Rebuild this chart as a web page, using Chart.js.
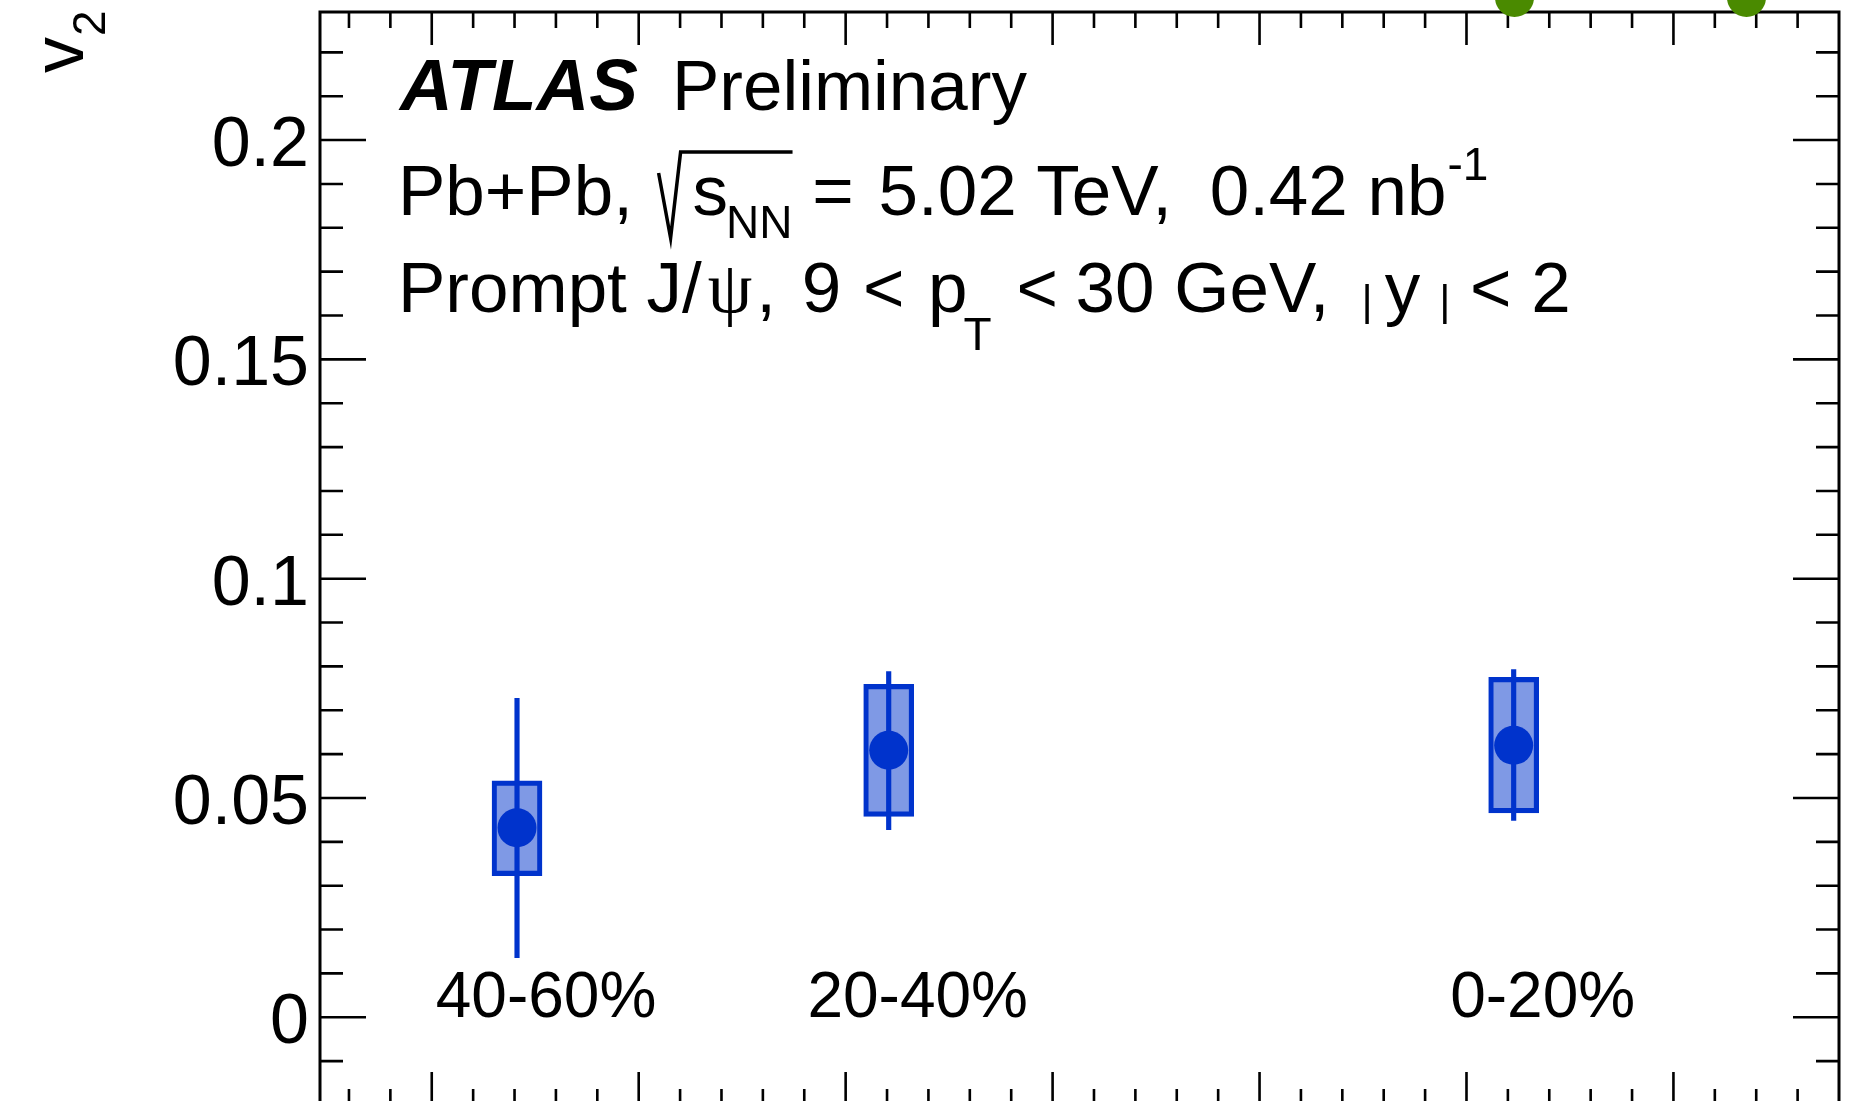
<!DOCTYPE html>
<html>
<head>
<meta charset="utf-8">
<script src="https://cdn.jsdelivr.net/npm/chart.js@4.4.0/dist/chart.umd.min.js"></script>
<style>
  html, body { margin: 0; padding: 0; background: #fff; overflow: hidden; }
  #wrap { width: 1870px; height: 1110px; }
</style>
</head>
<body>
<div id="wrap"><canvas id="chart" width="1870" height="1110"></canvas></div>
<script>
// centrality bins (prompt J/psi)
const centrality = ["40-60%", "20-40%", "0-20%"];
const binX = [0.412, 2.208, 5.228];
const v2 = [0.0432, 0.0609, 0.0620];
const statLow = [0.0136, 0.0428, 0.0449];
const statHigh = [0.0727, 0.0788, 0.0793];
const sysLow = [0.0323, 0.0458, 0.0466];
const sysHigh = [0.0539, 0.0759, 0.0775];

// other series, only its lower edge shows above the frame
const otherX = [5.232, 6.353];
const otherV2 = [0.2325, 0.2325];

const yTicks = [0, 0.05, 0.1, 0.15, 0.2];
const yTickLabels = ["0", "0.05", "0.1", "0.15", "0.2"];

const X_MIN = -0.54, X_MAX = 6.8;
const Y_MIN = -0.02, Y_MAX = 0.2292;

const BLUE = "#0033cc";
const GREEN = "#4a8a00";
const SANS = "'Liberation Sans', Arial, Helvetica, sans-serif";
const SERIF = "'Liberation Serif', 'DejaVu Serif', serif";

function drawRich(ctx, x, y, segs) {
  for (const s of segs) {
    x += s.gap || 0;
    ctx.font = s.font;
    ctx.fillText(s.t, x, y + (s.dy || 0));
    x += ctx.measureText(s.t).width;
  }
  return x;
}

const atlasFrame = {
  id: "atlasFrame",
  beforeDatasetsDraw(chart) {
    const { ctx, chartArea: a, scales: { x, y } } = chart;
    ctx.save();
    ctx.strokeStyle = "#000";
    ctx.lineWidth = 3;
    ctx.strokeRect(a.left, a.top, a.right - a.left, a.bottom - a.top);

    ctx.lineWidth = 2.6;
    ctx.beginPath();
    // y ticks every 0.01, long ones at 0.05
    for (let i = -2; i <= 22; i++) {
      const py = y.getPixelForValue(i / 100);
      const len = i % 5 === 0 ? 46 : 23;
      ctx.moveTo(a.left, py); ctx.lineTo(a.left + len, py);
      ctx.moveTo(a.right, py); ctx.lineTo(a.right - len, py);
    }
    // x ticks every 0.2, long ones at integers
    for (let k = -2; k <= 34; k++) {
      const v = k / 5;
      if (v <= X_MIN || v >= X_MAX) continue;
      const px = x.getPixelForValue(v);
      const len = k % 5 === 0 ? 33 : 16;
      ctx.moveTo(px, a.top); ctx.lineTo(px, a.top + len);
      ctx.moveTo(px, a.bottom); ctx.lineTo(px, a.bottom - len);
    }
    ctx.stroke();
    ctx.restore();
  },
  afterDraw(chart) {
    const { ctx, chartArea: a, scales: { x, y } } = chart;
    ctx.save();
    ctx.fillStyle = "#000";
    ctx.strokeStyle = "#000";
    ctx.textBaseline = "alphabetic";

    // y tick labels
    ctx.font = "70px " + SANS;
    ctx.textAlign = "right";
    yTicks.forEach((v, i) => {
      ctx.fillText(yTickLabels[i], a.left - 11, y.getPixelForValue(v) + 26);
    });

    // y title, rotated
    ctx.textAlign = "left";
    ctx.save();
    ctx.translate(83, 73);
    ctx.rotate(-Math.PI / 2);
    ctx.font = "72px " + SANS;
    ctx.fillText("v", 0, 0);
    const vw = ctx.measureText("v").width;
    ctx.font = "46px " + SANS;
    ctx.fillText("2", vw + 1, 22);
    ctx.restore();

    // centrality labels under the points
    ctx.font = "64px " + SANS;
    ctx.textAlign = "center";
    centrality.forEach((c, i) => {
      ctx.fillText(c, x.getPixelForValue(binX[i]) + 29, y.getPixelForValue(0));
    });

    // ATLAS label block
    ctx.textAlign = "left";
    const big = "71px " + SANS, small = "46px " + SANS;
    const x0 = 398;
    drawRich(ctx, x0 + 2, 109.5, [
      { t: "ATLAS", font: "italic bold 73px " + SANS },
      { t: "Preliminary", font: big, gap: 34 }
    ]);

    const b2 = 215;
    let cx = drawRich(ctx, x0, b2, [{ t: "Pb+Pb, ", font: big }]);
    const r0 = cx + 6;
    cx = drawRich(ctx, r0 + 34, b2, [
      { t: "s", font: big },
      { t: "NN", font: small, dy: 23, gap: -2 }
    ]);
    ctx.lineWidth = 3.5;
    ctx.lineJoin = "miter";
    ctx.beginPath();
    ctx.moveTo(r0, b2 - 42);
    ctx.lineTo(r0 + 12, b2 + 23);
    ctx.lineTo(r0 + 22, b2 - 63);
    ctx.lineTo(cx, b2 - 63);
    ctx.stroke();
    drawRich(ctx, cx, b2, [
      { t: " = ", font: big },
      { t: "5.02", font: big, gap: 5 },
      { t: " TeV,", font: big },
      { t: " 0.42 nb", font: big, gap: 18 },
      { t: "-1", font: small, dy: -35, gap: 1 }
    ]);

    drawRich(ctx, x0, 312, [
      { t: "Prompt J/", font: big },
      { t: "\u03c8", font: "71px " + SERIF, gap: 6 },
      { t: ",", font: big, gap: 4 },
      { t: " 9", font: big, gap: 6 },
      { t: " <", font: big, gap: 2 },
      { t: " p", font: big, gap: 4 },
      { t: "T", font: small, dy: 38, gap: -4 },
      { t: " <", font: big, gap: 5 },
      { t: " 30 GeV,", font: big, gap: -2 },
      { t: " |", font: "43px " + SANS, dy: 3, gap: 20 },
      { t: "y", font: big, gap: 12 },
      { t: "|", font: "43px " + SANS, dy: 3, gap: 19 },
      { t: " < 2", font: big }
    ]);
    ctx.restore();
  }
};

const sysBoxes = binX.map((bx, i) => ({ x: bx, y: [sysLow[i], sysHigh[i]] }));
const statBars = binX.map((bx, i) => ({ x: bx, y: [statLow[i], statHigh[i]] }));
const points = binX.map((bx, i) => ({ x: bx, y: v2[i] }));
const otherPoints = otherX.map((ox, i) => ({ x: ox, y: otherV2[i] }));

new Chart(document.getElementById("chart"), {
  type: "scatter",
  data: {
    datasets: [
      {
        type: "bar",
        data: sysBoxes,
        backgroundColor: "rgba(0,51,204,0.5)",
        borderColor: BLUE,
        borderWidth: 4.5,
        borderSkipped: false,
        barThickness: 50,
        grouped: false,
        order: 3
      },
      {
        type: "bar",
        data: statBars,
        backgroundColor: BLUE,
        borderWidth: 0,
        barThickness: 4.5,
        grouped: false,
        order: 2
      },
      {
        type: "scatter",
        data: points,
        backgroundColor: BLUE,
        borderWidth: 0,
        pointRadius: 19.5,
        order: 1
      },
      {
        type: "scatter",
        data: otherPoints,
        backgroundColor: GREEN,
        borderWidth: 0,
        pointRadius: 19.5,
        clip: false,
        order: 0
      }
    ]
  },
  options: {
    responsive: false,
    animation: false,
    devicePixelRatio: 1,
    layout: { autoPadding: false, padding: { left: 320, top: 12, right: 31, bottom: 5 } },
    plugins: { legend: { display: false }, tooltip: { enabled: false } },
    scales: {
      x: { type: "linear", min: X_MIN, max: X_MAX, offset: false, display: false },
      y: { type: "linear", min: Y_MIN, max: Y_MAX, display: false }
    }
  },
  plugins: [atlasFrame]
});
</script>
</body>
</html>
